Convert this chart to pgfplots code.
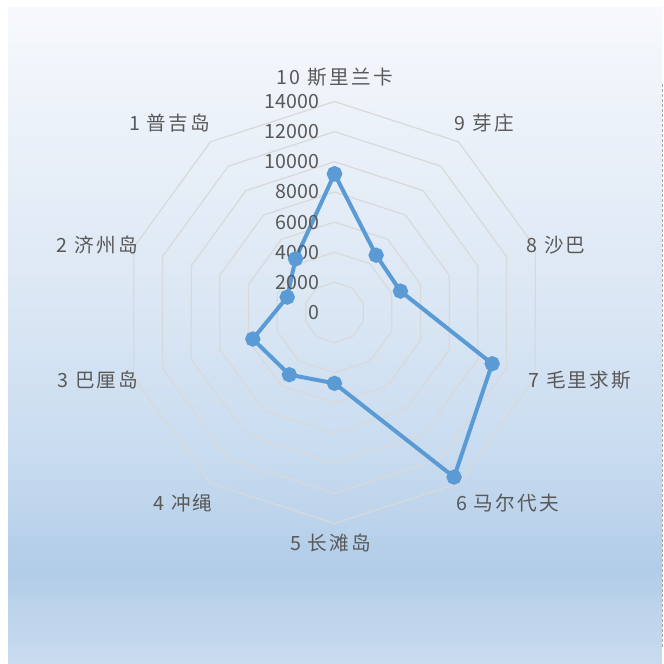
\documentclass[border=0pt]{standalone}
\usepackage{pgfplots}
\pgfplotsset{compat=1.18}
\usepgfplotslibrary{polar}
\usepackage{fontspec}
\setmainfont{Noto Sans CJK SC}
\newfontfamily\lab[LetterSpace=12]{Noto Sans CJK SC}

\definecolor{txt}{HTML}{595959}
\definecolor{ring}{HTML}{D9D9D9}
\definecolor{ser}{HTML}{5B9BD5}
\definecolor{b0}{HTML}{CADCEF}
\definecolor{b1}{HTML}{B2CDE8}
\definecolor{b2}{HTML}{C9DCF0}
\definecolor{b3}{HTML}{DBE7F4}
\definecolor{b4}{HTML}{EEF3FA}
\definecolor{b5}{HTML}{F7F9FC}
\pgfdeclareverticalshading{chartbg}{100bp}{color(0bp)=(b0); color(25bp)=(b0); color(32.2bp)=(b1); color(41.3bp)=(b2); color(52.7bp)=(b3); color(68bp)=(b4); color(75bp)=(b5); color(100bp)=(b5)}

\begin{document}
\begin{tikzpicture}[x=1bp,y=1bp]
  \fill[white] (0,0) rectangle (332,332);
  \shade[shading=chartbg] (4,0) rectangle (331,328);
  \draw[gray!70, line width=0.5bp, dash pattern=on 1.5bp off 1bp] (331.25,8.5) -- (331.25,290.5);
  \begin{polaraxis}[
      at={(167.25bp,175.75bp)}, anchor=origin,
      scale only axis, width=211bp, height=211bp,
      xmin=0, xmax=360, ymin=0, ymax=14000,
      hide axis, clip=false,
      font=\fontsize{9.8bp}{11bp}\selectfont,
    ]
    % decagon gridlines
    \pgfplotsinvokeforeach{2000,4000,...,14000}{
      \addplot[ring, line width=0.6bp, no marks] coordinates {
        (90,#1) (126,#1) (162,#1) (198,#1) (234,#1) (270,#1)
        (306,#1) (342,#1) (378,#1) (414,#1) (450,#1)};
    }
    % series: angle = 90 + 36*k for category k
    \addplot[ser, line width=2bp, mark=*, mark size=2.8bp,
      mark options={fill=ser, draw=ser}] coordinates {
      (90,9200)   % 10 斯里兰卡
      (126,4400)  % 1 普吉岛
      (162,3300)  % 2 济州岛
      (198,5700)  % 3 巴厘岛
      (234,5100)  % 4 冲绳
      (270,4700)  % 5 长滩岛
      (306,13500) % 6 马尔代夫
      (342,11000) % 7 毛里求斯
      (378,4600)  % 8 沙巴
      (414,4700)  % 9 芽庄
      (450,9200)
    };
    % radial tick labels
    \pgfplotsinvokeforeach{0,2000,...,14000}{
      \node[anchor=east, inner sep=0, text=txt, xshift=-7.5bp] at (axis cs:90,#1) {#1};
    }
    % category labels
    \begin{scope}[every node/.style={text=txt, inner sep=0, font=\lab\fontsize{9.8bp}{11bp}\selectfont}]
      \node at (axis cs:90,15626)    {10 斯里兰卡};
      \node at (axis cs:51.7,16016)  {9 芽庄};
      \node at (axis cs:16.95,15365) {8 沙巴};
      \node at (axis cs:344.6,16893) {7 毛里求斯};
      \node at (axis cs:312.3,17098) {6 马尔代夫};
      \node at (axis cs:269.1,15296) {5 长滩岛};
      \node at (axis cs:231.5,16150) {4 冲绳};
      \node at (axis cs:195.9,16318) {3 巴厘岛};
      \node at (axis cs:164.1,16350) {2 济州岛};
      \node at (axis cs:131.0,16650) {1 普吉岛};
    \end{scope}
  \end{polaraxis}
  \useasboundingbox (0,0) rectangle (332,332);
\end{tikzpicture}
\end{document}
